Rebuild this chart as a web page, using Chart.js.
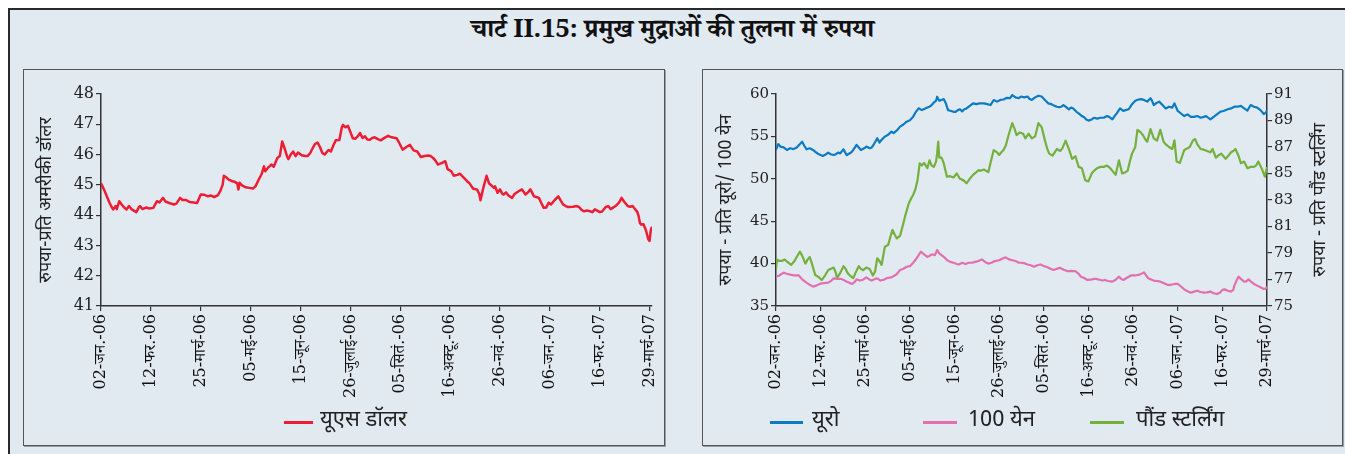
<!DOCTYPE html>
<html>
<head>
<meta charset="utf-8">
<script src="https://cdn.jsdelivr.net/npm/chart.js@4.4.1/dist/chart.umd.min.js"></script>
<style>
  html, body { margin:0; padding:0; background:#ffffff; width:1345px; height:454px; overflow:hidden; }
  #frame { position:absolute; left:8px; top:8px; width:1360px; height:470px; background:#e1e9f1;
           border-top:2px solid #2a2a2a; border-left:2px solid #2a2a2a; box-sizing:border-box; }
  .panel { position:absolute; top:69px; height:377px; border:1.5px solid #555; box-sizing:border-box;
           box-shadow:1px 1px 0 #9aa0a6; }
  #title { position:absolute; top:13px; left:0; width:1345px; text-align:center;
           font-family:"Noto Serif Devanagari","Noto Sans Devanagari","Lohit Devanagari","FreeSerif",serif;
           font-weight:bold; font-size:26px; color:#111; letter-spacing:-0.3px; }
  canvas { position:absolute; }
  .leg { position:absolute; font-family:"Noto Sans Devanagari","Lohit Devanagari","FreeSans","Noto Sans",sans-serif;
         font-size:22px; color:#222; white-space:nowrap; }
  .sw { position:absolute; height:3px; }
</style>
</head>
<body>
<div id="frame"></div>
<div class="panel" style="left:23px;width:642px;"></div>
<div class="panel" style="left:702px;width:641px;"></div>
<div id="title">चार्ट II.15: प्रमुख मुद्राओं की तुलना में रुपया</div>
<canvas id="c1" width="641" height="376" style="left:23px;top:69px;"></canvas>
<canvas id="c2" width="640" height="376" style="left:702px;top:69px;"></canvas>
<div id="legends"></div>
<script>
// ---- data ----
const tickLabels = ['02-जन.-06','12-फर.-06','25-मार्च-06','05-मई-06','15-जून-06','26-जुलाई-06','05-सितं.-06','16-अक्टू.-06','26-नवं.-06','06-जन.-07','16-फर.-07','29-मार्च-07'];
const tickDays = [0,41,82,123,164,205,246,287,328,369,410,451];

const seriesNames = ['यूएस डॉलर','यूरो','100 येन','पौंड स्टर्लिंग'];

// [day since 02-Jan-06, rupees]
const usdSeries = [[0,45.05],[3,44.8],[5,44.6],[7,44.41],[9,44.25],[10,44.19],[12,44.3],[13,44.2],[15,44.46],[17,44.35],[19,44.25],[21,44.19],[23,44.3],[25,44.2],[27,44.15],[29,44.1],[31,44.25],[32,44.3],[34,44.2],[37,44.25],[40,44.22],[43,44.24],[46,44.46],[48,44.42],[51,44.57],[53,44.45],[56,44.4],[60,44.35],[62,44.38],[65,44.57],[67,44.5],[70,44.5],[73,44.43],[76,44.42],[79,44.4],[82,44.68],[85,44.67],[88,44.62],[90,44.65],[93,44.6],[96,44.65],[98,44.79],[100,45.0],[101,45.3],[103,45.25],[105,45.17],[108,45.12],[110,45.1],[112,45.05],[113,44.85],[114,45.07],[116,44.98],[119,44.92],[122,44.9],[125,44.88],[127,44.95],[130,45.2],[132,45.35],[134,45.61],[135,45.45],[137,45.55],[140,45.67],[142,45.6],[145,45.89],[147,45.95],[149,46.43],[151,46.2],[153,45.94],[154,45.85],[156,46.0],[158,46.1],[160,45.95],[162,46.07],[165,45.98],[168,45.95],[170,45.95],[172,46.05],[174,46.21],[176,46.35],[178,46.4],[180,46.25],[182,46.05],[184,46.0],[187,46.15],[189,46.1],[191,46.3],[193,46.47],[196,46.48],[198,46.9],[199,46.98],[201,46.9],[203,46.95],[205,46.75],[207,46.54],[209,46.52],[211,46.6],[213,46.71],[215,46.55],[217,46.6],[219,46.5],[221,46.49],[223,46.55],[225,46.57],[228,46.5],[230,46.47],[233,46.55],[236,46.62],[239,46.57],[243,46.54],[245,46.4],[248,46.16],[251,46.25],[254,46.32],[257,46.14],[260,46.1],[263,45.92],[266,45.95],[269,45.97],[271,45.95],[273,45.89],[275,45.8],[277,45.67],[280,45.72],[283,45.78],[285,45.52],[288,45.45],[290,45.3],[293,45.33],[295,45.37],[298,45.25],[301,45.12],[303,45.05],[306,44.87],[309,44.85],[311,44.7],[312,44.49],[314,44.85],[317,45.3],[319,45.05],[321,44.98],[323,44.9],[324,44.95],[326,44.74],[328,44.85],[330,44.7],[331,44.68],[333,44.75],[335,44.65],[338,44.57],[340,44.7],[343,44.78],[346,44.85],[349,44.68],[351,44.75],[353,44.85],[356,44.62],[358,44.6],[360,44.57],[362,44.4],[364,44.24],[366,44.25],[368,44.41],[370,44.35],[373,44.5],[376,44.62],[378,44.48],[380,44.35],[382,44.3],[384,44.27],[388,44.28],[391,44.3],[393,44.27],[395,44.18],[397,44.13],[400,44.15],[402,44.13],[404,44.1],[406,44.19],[408,44.15],[410,44.1],[412,44.12],[415,44.27],[417,44.3],[419,44.2],[421,44.25],[423,44.3],[426,44.42],[428,44.57],[430,44.45],[433,44.3],[435,44.28],[437,44.3],[439,44.2],[441,44.1],[442,43.97],[443,43.75],[444,43.69],[446,43.7],[448,43.5],[450,43.2],[451,43.15],[452,43.5],[453,43.62]];

const euroSeries = [[0,53.4],[2,54.1],[4,53.8],[7,53.7],[10,53.4],[13,53.6],[16,53.5],[19,53.7],[22,54.1],[24,54.38],[26,53.9],[28,53.48],[31,53.6],[34,53.4],[37,53.1],[39,52.92],[41,52.8],[43,52.69],[46,52.9],[48,53.1],[50,52.9],[53,52.8],[55,52.9],[57,53.1],[59,53.0],[62,53.48],[64,53.0],[65,52.8],[67,52.95],[69,53.1],[71,53.4],[74,54.0],[76,53.7],[78,53.4],[81,53.6],[83,53.8],[86,53.6],[88,53.7],[90,54.1],[93,54.78],[95,54.27],[97,54.6],[100,54.97],[103,55.2],[106,55.56],[108,55.4],[111,55.7],[114,56.15],[117,56.4],[120,56.74],[123,56.9],[126,57.33],[128,57.8],[131,58.31],[134,58.1],[137,58.3],[139,58.4],[141,58.5],[143,58.7],[145,59.0],[147,59.2],[148,59.68],[150,59.2],[152,59.3],[154,59.4],[156,58.9],[158,58.1],[161,58.0],[163,57.9],[165,57.9],[167,58.1],[169,58.2],[171,57.95],[173,58.2],[175,58.3],[178,58.6],[181,58.9],[184,58.8],[187,58.9],[191,58.9],[194,58.8],[197,58.7],[200,59.29],[203,59.1],[206,59.3],[209,59.35],[212,59.55],[215,59.5],[217,59.88],[220,59.6],[223,59.5],[225,59.7],[228,59.6],[231,59.7],[233,59.4],[235,59.3],[238,59.6],[241,59.8],[244,59.7],[247,59.3],[250,58.9],[253,58.8],[256,58.6],[258,58.5],[260,58.43],[262,58.5],[264,58.7],[266,58.5],[269,58.2],[271,58.4],[273,58.3],[276,57.9],[278,57.72],[281,57.4],[283,57.25],[285,57.0],[287,56.86],[290,57.0],[292,57.2],[295,57.1],[298,57.2],[301,57.2],[304,57.4],[306,57.3],[309,57.0],[311,57.4],[313,57.72],[316,58.3],[319,58.0],[321,58.1],[324,58.2],[327,58.8],[330,59.2],[333,59.35],[335,59.4],[338,59.3],[341,59.1],[344,59.5],[345,59.3],[347,58.7],[349,58.9],[352,59.1],[355,58.7],[358,58.3],[361,58.5],[364,58.4],[366,58.9],[369,58.0],[372,57.7],[375,57.4],[378,57.6],[381,57.3],[384,57.3],[387,57.4],[390,57.2],[393,57.3],[395,57.4],[397,57.2],[399,57.0],[402,57.3],[405,57.6],[408,57.9],[411,58.0],[415,58.2],[418,58.3],[421,58.5],[424,58.5],[427,58.6],[430,58.3],[433,58.05],[436,58.7],[439,58.5],[442,58.4],[445,58.1],[448,57.64],[450,57.8],[451,58.1]];

const yenSeries = [[0,38.46],[3,38.6],[7,38.93],[10,38.8],[13,38.7],[17,38.6],[21,38.6],[24,38.14],[28,37.75],[31,37.5],[34,37.28],[37,37.4],[40,37.6],[44,37.7],[48,37.75],[51,38.0],[53,38.26],[56,38.2],[60,38.2],[63,38.0],[65,37.87],[68,37.7],[70,37.6],[72,37.8],[74,38.14],[77,38.0],[80,38.1],[83,38.38],[86,38.1],[88,38.0],[91,38.2],[93,38.26],[96,38.0],[99,38.1],[102,38.3],[106,38.38],[109,38.6],[111,38.77],[114,39.25],[117,39.4],[120,39.63],[123,39.7],[126,40.1],[128,40.42],[131,41.0],[133,41.4],[136,41.1],[139,40.8],[141,40.9],[143,41.1],[146,41.0],[148,41.6],[150,41.2],[152,41.0],[155,40.7],[157,40.42],[160,40.2],[163,40.1],[166,39.95],[168,39.9],[171,40.1],[174,39.95],[177,40.1],[180,40.1],[183,40.2],[186,40.3],[189,40.5],[192,40.2],[195,40.0],[198,40.1],[201,40.3],[205,40.4],[208,40.6],[211,40.74],[214,40.5],[217,40.4],[220,40.3],[223,40.1],[225,40.1],[228,40.05],[231,39.9],[234,39.8],[237,39.63],[240,39.8],[243,39.9],[246,39.7],[249,39.6],[252,39.4],[255,39.25],[258,39.4],[261,39.5],[263,39.35],[265,39.25],[268,39.1],[271,39.15],[275,39.1],[278,38.8],[280,38.46],[283,38.3],[286,38.07],[289,38.1],[292,38.2],[294,38.2],[297,38.1],[300,38.0],[302,38.07],[305,37.95],[309,37.87],[312,38.1],[315,38.46],[317,38.2],[319,38.07],[322,38.3],[326,38.6],[330,38.6],[334,38.7],[338,38.96],[340,38.6],[342,38.26],[345,38.1],[347,38.0],[350,37.95],[353,37.87],[356,37.7],[358,37.6],[360,37.48],[363,37.5],[366,37.6],[369,37.6],[372,37.3],[375,36.96],[378,36.75],[381,36.57],[384,36.7],[387,36.8],[390,36.65],[393,36.57],[396,36.6],[399,36.7],[402,36.5],[405,36.41],[408,36.6],[410,36.9],[412,36.96],[415,36.8],[418,36.7],[420,36.9],[421,37.4],[423,38.0],[425,38.46],[427,38.2],[430,37.87],[432,37.9],[434,38.14],[436,37.9],[439,37.6],[442,37.4],[445,37.2],[448,37.0],[450,37.05],[451,37.3]];

const gbpSeries = [[0,77.8],[1,78.5],[3,78.4],[5,78.4],[8,78.5],[11,78.3],[14,78.1],[17,78.4],[19,78.7],[22,79.1],[24,78.8],[27,78.2],[29,78.5],[31,78.7],[33,78.2],[36,77.34],[39,77.2],[42,76.96],[45,77.3],[48,77.72],[50,77.8],[53,77.9],[55,77.5],[56,77.1],[59,77.5],[62,78.0],[64,77.8],[66,77.46],[68,77.3],[71,77.1],[73,77.5],[76,78.0],[78,77.8],[80,77.7],[83,77.9],[86,77.8],[89,77.3],[91,77.6],[93,78.6],[95,78.4],[97,78.1],[100,79.48],[103,79.6],[105,80.2],[107,80.74],[109,80.4],[111,80.1],[114,80.3],[117,81.24],[119,81.9],[122,82.75],[124,83.1],[126,83.38],[128,83.8],[130,84.5],[132,85.77],[134,85.6],[136,85.8],[139,85.4],[141,86.0],[143,85.6],[145,85.5],[147,85.9],[148,86.5],[149,87.4],[150,86.2],[152,86.2],[154,85.8],[157,84.76],[160,84.8],[163,84.7],[166,85.0],[169,84.6],[172,84.5],[175,84.26],[178,84.6],[181,84.9],[184,85.1],[186,85.26],[188,85.2],[191,85.3],[193,85.2],[195,85.1],[197,85.8],[200,86.77],[203,86.6],[205,86.4],[207,86.6],[209,86.77],[211,87.1],[212,87.4],[214,88.0],[217,88.8],[219,88.4],[221,87.9],[224,88.1],[227,88.0],[229,87.65],[232,88.0],[235,87.65],[238,87.8],[241,88.8],[244,88.5],[247,87.5],[249,86.9],[251,86.5],[254,86.35],[256,86.6],[258,86.85],[261,86.7],[263,86.9],[266,87.48],[269,86.85],[272,86.1],[275,86.3],[278,85.5],[281,85.4],[284,84.5],[287,84.4],[290,85.0],[292,85.2],[295,85.4],[298,85.5],[301,85.5],[304,85.6],[307,85.4],[309,85.2],[312,84.9],[315,86.0],[318,85.0],[321,85.1],[323,85.2],[325,85.9],[327,86.5],[330,87.0],[332,88.3],[335,88.1],[337,87.9],[339,87.6],[341,87.4],[344,88.35],[347,87.65],[350,87.48],[353,88.3],[356,87.4],[358,87.2],[361,87.0],[364,86.85],[366,87.5],[368,85.9],[371,85.8],[373,86.3],[375,86.77],[378,86.9],[380,87.0],[383,87.5],[385,87.6],[387,87.2],[390,86.85],[393,86.8],[396,86.7],[399,86.6],[401,86.85],[404,86.2],[407,86.4],[409,86.5],[411,86.3],[413,86.1],[416,86.4],[418,86.6],[420,86.7],[422,86.85],[425,86.3],[427,85.77],[430,85.9],[433,85.4],[436,85.5],[439,85.5],[441,85.6],[443,85.9],[446,85.4],[449,84.76],[451,85.5]];

const axisTitles = ['रुपया-प्रति अमरीकी डॉलर','रुपया - प्रति यूरो/ 100 येन','रुपया - प्रति पौंड स्टर्लिंग'];
const colors = ['#ee1d33','#0b7cc4','#e36fae','#74b03c'];

// ---- helpers ----
const devaSans = '"Noto Sans Devanagari","Lohit Devanagari","FreeSans","Noto Sans",sans-serif';
const numSerif = '"DejaVu Serif","Noto Serif Devanagari","FreeSerif",serif';
const toPts = s => s.map(p => ({x:p[0], y:p[1]}));
const axisColor = '#333';

function xScale(max) {
  return {
    type:'linear', min:0, max:max, position:'bottom',
    afterBuildTicks: s => { s.ticks = tickDays.map(v => ({value:v})); },
    afterFit: s => { s.height = 139; s.paddingLeft = 0; s.paddingRight = 0; },
    grid:{ drawOnChartArea:false, drawTicks:true, tickLength:5, color:axisColor, lineWidth:1.2 },
    border:{ display:true, color:axisColor, width:1.5 },
    ticks:{ autoSkip:false, maxRotation:90, minRotation:90, padding:3, color:'#111',
            font:{ family:numSerif, size:16 },
            callback: v => { const i = tickDays.indexOf(v); return i >= 0 ? tickLabels[i] : ''; } }
  };
}
function yScale(min, max, step, pos, width, title, titlePad, fontSize) {
  return {
    type:'linear', min:min, max:max, position:pos,
    afterFit: s => { s.width = width; s.paddingTop = 0; s.paddingBottom = 0; },
    grid:{ drawOnChartArea:false, drawTicks:true, tickLength:5, color:axisColor, lineWidth:1.2 },
    border:{ display:true, color:axisColor, width:1.5 },
    ticks:{ stepSize:step, padding:2, color:'#222', font:{ family:numSerif, size:fontSize } },
    title:{ display: !!title, text:title || '', color:'#222', padding:{top:titlePad, bottom:0},
            font:{ family:devaSans, size:18 } }
  };
}
const rightTitlePlugin = {
  id:'rightTitle',
  afterDraw(chart, args, opts) {
    if (!opts.text) return;
    const s = chart.scales.y1, ctx = chart.ctx;
    ctx.save();
    ctx.translate(s.right - opts.offset, (s.top + s.bottom) / 2);
    ctx.rotate(-Math.PI / 2);
    ctx.font = '18px ' + devaSans;
    ctx.fillStyle = '#222';
    ctx.textAlign = 'center'; ctx.textBaseline = 'middle';
    ctx.fillText(opts.text, 0, 0);
    ctx.restore();
  }
};
const common = {
  responsive:false, animation:false, devicePixelRatio:1,
  plugins:{ legend:{display:false}, tooltip:{enabled:false} },
  elements:{ point:{radius:0}, line:{tension:0, borderJoinStyle:'round'} }
};

new Chart(document.getElementById('c1'), {
  type:'line',
  data:{ datasets:[{ label:seriesNames[0], data:toPts(usdSeries), borderColor:colors[0], borderWidth:2.5 }] },
  options:Object.assign({}, common, {
    layout:{ padding:{ left:0, top:25, right:12, bottom:0 } },
    scales:{ x:xScale(453), y:yScale(41, 48, 1, 'left', 78, axisTitles[0], 14, 16) }
  })
});

new Chart(document.getElementById('c2'), {
  type:'line',
  data:{ datasets:[
    { label:seriesNames[1], data:toPts(euroSeries), borderColor:colors[1], borderWidth:2.2, yAxisID:'y' },
    { label:seriesNames[2], data:toPts(yenSeries), borderColor:colors[2], borderWidth:2.2, yAxisID:'y' },
    { label:seriesNames[3], data:toPts(gbpSeries), borderColor:colors[3], borderWidth:2.2, yAxisID:'y1' }
  ]},
  options:Object.assign({}, common, {
    layout:{ padding:{ left:0, top:25, right:0, bottom:0 } },
    plugins:{ legend:{display:false}, tooltip:{enabled:false}, rightTitle:{ text:axisTitles[2], offset:20 } },
    scales:{
      x:xScale(451),
      y:yScale(35, 60, 5, 'left', 74, axisTitles[1], 15, 15),
      y1:yScale(75, 91, 2, 'right', 75, '', 0, 15)
    }
  }),
  plugins:[rightTitlePlugin]
});

// ---- HTML legends ----
const legendItems = [
  { name:seriesNames[0], color:colors[0], sx:284, sw:29, tx:320 },
  { name:seriesNames[1], color:colors[1], sx:770, sw:33, tx:812 },
  { name:seriesNames[2], color:colors[2], sx:923, sw:34, tx:968 },
  { name:seriesNames[3], color:colors[3], sx:1090, sw:34, tx:1136 }
];
const lg = document.getElementById('legends');
legendItems.forEach(it => {
  const sw = document.createElement('div');
  sw.className = 'sw';
  sw.style.cssText = `left:${it.sx}px;top:421px;width:${it.sw}px;background:${it.color};`;
  lg.appendChild(sw);
  const t = document.createElement('div');
  t.className = 'leg';
  t.style.cssText = `left:${it.tx}px;top:406px;`;
  t.textContent = it.name;
  lg.appendChild(t);
});
</script>
</body>
</html>
